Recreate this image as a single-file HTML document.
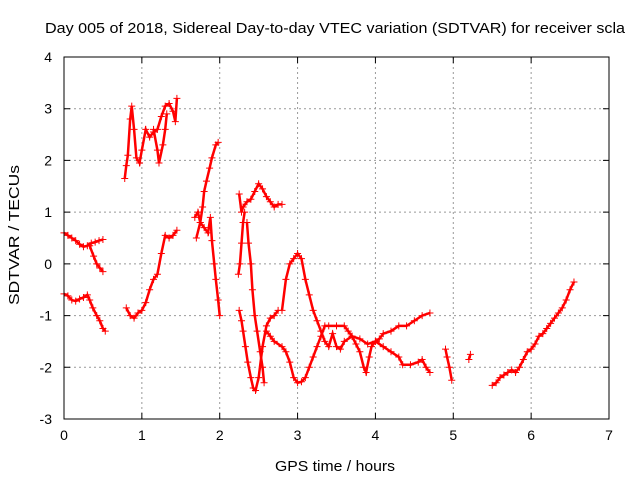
<!DOCTYPE html>
<html><head><meta charset="utf-8"><style>
body{margin:0;background:#fff}
svg text{font-family:"Liberation Sans",sans-serif;font-size:14px;fill:#000}
</style></head><body>
<svg id="chart" width="640" height="480" xmlns="http://www.w3.org/2000/svg">
<rect width="640" height="480" fill="#fff"/>
<text x="45" y="33" textLength="580" lengthAdjust="spacingAndGlyphs" style="font-size:15px">Day 005 of 2018, Sidereal Day-to-day VTEC variation (SDTVAR) for receiver scla</text>
<g id="grid"></g>
<g id="ticks"></g>
<g id="marks"></g>
<rect x="64" y="57" width="545" height="362" fill="none" stroke="#000" stroke-width="1"/>
<text x="275" y="471" textLength="120" lengthAdjust="spacingAndGlyphs" style="font-size:15px">GPS time / hours</text>
<text transform="translate(19,305) rotate(-90)" textLength="140" lengthAdjust="spacingAndGlyphs" style="font-size:15px">SDTVAR / TECUs</text>
</svg>
<script>
const xTicks=[0,1,2,3,4,5,6,7];
const yTicks=[-3,-2,-1,0,1,2,3,4];
const trackA=[[0,0.6],[0.05,0.55],[0.1,0.5],[0.15,0.45],[0.2,0.38],[0.25,0.33],[0.3,0.35],[0.35,0.4],[0.4,0.42],[0.45,0.45],[0.5,0.47]];
const trackB=[[0.33,0.35],[0.38,0.15],[0.42,0.0],[0.46,-0.08],[0.5,-0.15]];
const trackC=[[0,-0.58],[0.05,-0.62],[0.1,-0.7],[0.15,-0.72],[0.2,-0.68],[0.25,-0.65],[0.3,-0.6],[0.33,-0.7],[0.37,-0.85],[0.42,-1.0],[0.46,-1.1],[0.5,-1.25],[0.53,-1.3]];
const trackD=[[0.8,-0.85],[0.85,-1.0],[0.9,-1.05],[0.95,-0.95],[1.0,-0.9],[1.05,-0.75],[1.1,-0.5],[1.15,-0.3],[1.2,-0.2],[1.25,0.2],[1.3,0.55],[1.35,0.5],[1.4,0.55],[1.45,0.65]];
const trackE=[[0.78,1.65],[0.8,1.9],[0.82,2.1],[0.85,2.8],[0.87,3.05],[0.9,2.6],[0.93,2.05],[0.97,1.95],[1.0,2.2],[1.05,2.6],[1.1,2.45],[1.15,2.55],[1.2,2.6],[1.25,2.85],[1.3,3.05],[1.35,3.1],[1.4,2.95],[1.43,2.75],[1.45,3.2]];
const trackF=[[1.15,2.6],[1.2,2.2],[1.22,1.95],[1.27,2.3],[1.3,2.6],[1.32,2.9]];
const trackG=[[1.7,0.5],[1.75,0.8],[1.78,1.1],[1.8,1.4],[1.83,1.6],[1.87,1.85],[1.9,2.05],[1.95,2.3],[1.98,2.35]];
const trackH=[[1.68,0.9],[1.72,1.0],[1.75,0.8],[1.8,0.7],[1.85,0.6],[1.88,0.9],[1.9,0.45],[1.93,0.0],[1.95,-0.3],[1.98,-0.7],[2.0,-1.0]];
const trackI=[[2.25,1.35],[2.28,1.0],[2.3,1.1],[2.35,1.2],[2.4,1.25],[2.45,1.4],[2.5,1.55],[2.55,1.45],[2.6,1.3],[2.65,1.2],[2.7,1.1],[2.75,1.15],[2.8,1.15]];
const trackJ=[[2.24,-0.2],[2.26,0.0],[2.28,0.4],[2.3,0.8],[2.32,1.0]];
const trackK=[[2.35,0.8],[2.37,0.4],[2.4,0.0],[2.42,-0.5],[2.45,-1.0],[2.48,-1.3],[2.52,-1.7],[2.55,-2.0],[2.57,-2.3]];
const trackL=[[2.25,-0.9],[2.28,-1.1],[2.3,-1.3],[2.33,-1.6],[2.36,-1.9],[2.4,-2.2],[2.43,-2.4],[2.46,-2.45],[2.5,-2.2],[2.55,-1.6],[2.6,-1.2],[2.65,-1.05],[2.7,-1.0],[2.75,-0.9]];
const trackM=[[2.6,-1.3],[2.65,-1.4],[2.7,-1.5],[2.8,-1.6],[2.85,-1.7],[2.9,-1.9],[2.95,-2.2],[3.0,-2.3],[3.05,-2.28],[3.1,-2.2],[3.15,-2.0],[3.2,-1.8],[3.25,-1.6],[3.3,-1.4],[3.35,-1.2],[3.4,-1.2],[3.5,-1.2],[3.6,-1.2],[3.65,-1.3],[3.7,-1.4],[3.75,-1.55],[3.8,-1.7],[3.85,-2.0],[3.88,-2.1],[3.92,-1.8],[3.95,-1.6],[4.0,-1.5],[4.05,-1.45],[4.1,-1.35],[4.2,-1.3],[4.3,-1.2],[4.4,-1.2],[4.5,-1.1],[4.6,-1.0],[4.7,-0.95]];
const trackN=[[2.8,-0.9],[2.85,-0.3],[2.9,0.0],[2.95,0.1],[3.0,0.2],[3.05,0.1],[3.1,-0.3],[3.15,-0.6],[3.2,-0.9],[3.25,-1.1],[3.3,-1.3],[3.35,-1.5],[3.4,-1.6],[3.45,-1.35],[3.5,-1.6],[3.55,-1.65],[3.6,-1.5],[3.7,-1.4],[3.8,-1.45],[3.9,-1.55],[4.0,-1.5],[4.1,-1.6],[4.2,-1.7],[4.3,-1.8],[4.35,-1.95],[4.45,-1.95],[4.55,-1.9],[4.6,-1.85],[4.65,-2.0],[4.7,-2.1]];
const trackO=[[4.9,-1.65],[4.92,-1.8],[4.95,-2.0],[4.98,-2.25]];
const trackQ=[[5.2,-1.85],[5.22,-1.75]];
const trackP=[[5.5,-2.35],[5.55,-2.3],[5.6,-2.2],[5.65,-2.15],[5.7,-2.1],[5.75,-2.05],[5.8,-2.1],[5.85,-2.0],[5.9,-1.85],[5.95,-1.7],[6.0,-1.65],[6.05,-1.55],[6.1,-1.4],[6.15,-1.35],[6.2,-1.25],[6.25,-1.15],[6.3,-1.05],[6.35,-0.95],[6.4,-0.85],[6.45,-0.7],[6.5,-0.5],[6.55,-0.35]];
const tracks=[trackA,trackB,trackC,trackD,trackE,trackF,trackG,trackH,trackI,trackJ,trackK,trackL,trackM,trackN,trackO,trackQ,trackP];

const NS='http://www.w3.org/2000/svg';
const X0=64,X1=609,Y0=419,Y1=57;
function xs(t){return X0+(t-0)/(7-0)*(X1-X0);}
function ys(v){return Y0-(v+3)/(4+3)*(Y0-Y1);}
function mk(tag,attrs){const e=document.createElementNS(NS,tag);for(const k in attrs)e.setAttribute(k,attrs[k]);return e;}
const grid=document.getElementById('grid'),ticks=document.getElementById('ticks'),marks=document.getElementById('marks');
xTicks.forEach(t=>{
  const x=xs(t);
  if(t>0&&t<7){const g=mk('line',{x1:x,x2:x,y1:Y0,y2:Y1,stroke:'#999','stroke-dasharray':'2,3'});
  
  
  grid.appendChild(g);}
  const tk=mk('path',{d:`M${x},${Y0}v-6M${x},${Y1}v6`,stroke:'#000'});
  
  
  ticks.appendChild(tk);
  const l=mk('text',{x:x,y:Y0+21,'text-anchor':'middle'});l.textContent=t;
  
  
  ticks.appendChild(l);
});
yTicks.forEach(v=>{
  const y=ys(v);
  if(v>-3&&v<4){const g=mk('line',{x1:X0,x2:X1,y1:y,y2:y,stroke:'#999','stroke-dasharray':'2,3'});
  
  
  grid.appendChild(g);}
  const tk=mk('path',{d:`M${X0},${y}h6M${X1},${y}h-6`,stroke:'#000'});
  
  
  ticks.appendChild(tk);
  const l=mk('text',{x:X0-12,y:y+5,'text-anchor':'end'});l.textContent=v;
  
  
  ticks.appendChild(l);
});
tracks.forEach(tr=>{
  const pl=mk('polyline',{points:tr.map(p=>xs(p[0])+','+ys(p[1])).join(' '),fill:'none',stroke:'#f00','stroke-width':2.5});
  
  
  marks.appendChild(pl);
  tr.forEach(p=>{
    const x=xs(p[0]),y=ys(p[1]);
    const m=mk('path',{d:`M${x-3.5},${y}h7M${x},${y-3.5}v7`,stroke:'#f00','stroke-width':1});
    
    
    marks.appendChild(m);
  });
});
</script>
</body></html>
